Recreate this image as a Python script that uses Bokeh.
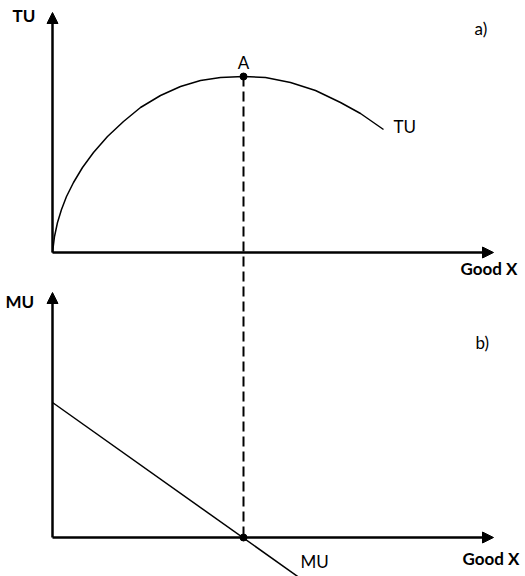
from bokeh.plotting import figure
from bokeh.models import Range1d, Arrow, NormalHead, Label
from bokeh.embed import file_html
from bokeh.resources import INLINE

# ---- data ----
# Total utility curve: quantity of Good X vs TU
tu_q = [0, 2, 5, 9, 14, 21, 30, 41, 55, 71, 88, 108, 128, 148, 168, 191, 213, 238, 263, 288, 308, 331]
tu_v = [0, 16, 30, 43, 56, 70, 85, 100, 116, 131, 145, 157, 166, 172, 175, 176, 175, 170, 162, 150, 139, 123]
# Marginal utility line
mu_q = [0, 248]
mu_v = [135, -41]

axis_labels_y = ["TU", "MU"]
axis_label_x = "Good X"
panel_labels = ["a)", "b)"]
point_label = "A"

# ---- layout constants ----
TOP0 = 324      # vertical offset of panel a) origin
BOT0 = 39       # vertical offset of panel b) origin
X_LEN = 441
TOP_Y_LEN = 240
BOT_Y_LEN = 245
FONT = "Lato"
DY = 7          # text baseline correction

peak_i = max(range(len(tu_v)), key=lambda i: tu_v[i])
x_star = tu_q[peak_i]

p = figure(width=525, height=576, output_backend="svg", toolbar_location=None,
           x_range=Range1d(-52, 473), y_range=Range1d(0, 576), min_border=0)
p.axis.visible = False
p.grid.visible = False
p.outline_line_color = None
p.background_fill_color = "white"
p.border_fill_color = "white"

def arrow(x0, y0, x1, y1):
    p.add_layout(Arrow(end=NormalHead(size=11, fill_color="black", line_color="black", line_width=1),
                       x_start=x0, y_start=y0, x_end=x1, y_end=y1,
                       line_color="black", line_width=2.5))

# axes
arrow(0, TOP0, 0, TOP0 + TOP_Y_LEN)
arrow(0, TOP0, X_LEN, TOP0)
arrow(0, BOT0, 0, BOT0 + BOT_Y_LEN)
arrow(0, BOT0, X_LEN, BOT0)

# curves
p.line(tu_q, [v + TOP0 for v in tu_v], line_color="black", line_width=1.5)
p.line(mu_q, [v + BOT0 for v in mu_v], line_color="black", line_width=1.5)

# dashed guide
p.line([x_star, x_star], [tu_v[peak_i] + TOP0, BOT0], line_color="black", line_width=2, line_dash="10 5")
p.scatter([x_star, x_star], [tu_v[peak_i] + TOP0, BOT0], size=7, color="black")

def lab(txt, x, y, bold=False, align="left", size="17px"):
    p.add_layout(Label(x=x, y=y + DY, text=txt, text_font=FONT, text_font_size=size,
                       text_font_style="bold" if bold else "normal",
                       text_align=align, text_baseline="alphabetic", text_color="black"))

lab(axis_labels_y[0], -40, 554, bold=True)
lab(axis_labels_y[1], -47, 268, bold=True)
lab(axis_label_x, 408, 301, bold=True)
lab(axis_label_x, 410, 11, bold=True)
lab(panel_labels[0], 422, 541)
lab(panel_labels[1], 423, 227)
lab(point_label, x_star, 507, align="center")
lab("TU", 341, 443)
lab("MU", 248, 8)

open("out.html", "w").write(file_html(p, INLINE))
